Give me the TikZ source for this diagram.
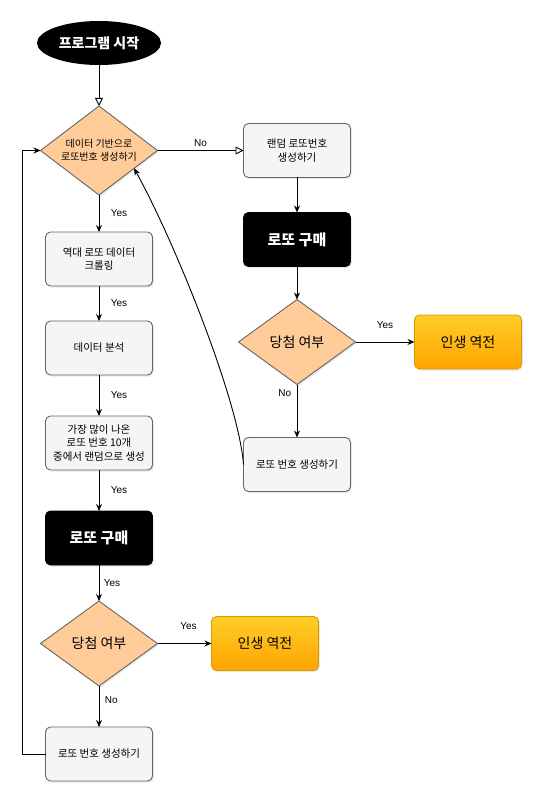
\documentclass[tikz,border=0pt]{standalone}
\usepackage{fontspec}
\setmainfont{Liberation Sans}
\newfontfamily\krfont{Noto Sans CJK KR}
\usetikzlibrary{positioning, shapes, arrows.meta, shadows}

\definecolor{peach}{HTML}{FFCC99}
\definecolor{boxgray}{HTML}{F5F5F5}
\definecolor{linegray}{HTML}{666666}
\definecolor{goldtop}{HTML}{FFCD28}
\definecolor{goldbot}{HTML}{FFA500}
\definecolor{goldline}{HTML}{D79B00}

\begin{document}
\begin{tikzpicture}[
    x=1pt, y=1pt,
    line width=0.9pt,
    >={Stealth[length=7pt, width=6pt]},
    node distance=40pt,
    softshadow/.style={drop shadow={shadow xshift=1.5pt, shadow yshift=-1.5pt, opacity=0.18}},
    stepbox/.style={rectangle, rounded corners=5pt, draw=linegray, fill=boxgray, minimum width=107pt, minimum height=54pt, outer sep=0pt, align=center, font=\krfont\fontsize{10.5}{13.5}\selectfont, softshadow},
    buybox/.style={stepbox, draw=black, fill=black, text=white, font=\krfont\bfseries\fontsize{15}{18}\selectfont},
    winbox/.style={stepbox, draw=goldline, top color=goldtop, bottom color=goldbot, text=black, font=\krfont\fontsize{14}{17}\selectfont},
    decision/.style={diamond, draw=linegray, fill=peach, minimum width=117pt, minimum height=85pt, aspect=1.31, inner sep=0pt, outer sep=0pt, align=center, font=\krfont\fontsize{14}{17}\selectfont, softshadow},
    startnode/.style={ellipse, fill=black, text=white, minimum width=124pt, minimum height=44pt, outer sep=0pt, font=\krfont\bfseries\fontsize{14}{17}\selectfont},
    lbl/.style={font=\fontsize{10}{12}\selectfont}
]
\useasboundingbox (0,0) rectangle (535,-794);

% Start node
\node[startnode] (start) at (99,-43) {프로그램 시작};

% Data based branch
\node[decision, minimum height=89pt, below=41pt of start, font=\krfont\fontsize{10}{13.5}\selectfont] (decide) {데이터 기반으로\\로또번호 생성하기};
\node[stepbox, below=37pt of decide] (crawl) {역대 로또 데이터\\크롤링};
\node[stepbox, below=35pt of crawl] (analyze) {데이터 분석};
\node[stepbox, below=41pt of analyze] (pick) {가장 많이 나온\\로또 번호 10개\\중에서 랜덤으로 생성};
\node[buybox, below=41pt of pick] (buyA) {로또 구매};
\node[decision, below=36pt of buyA] (checkA) {당첨 여부};
\node[winbox, right=54pt of checkA] (winA) {인생 역전};
\node[stepbox, below=41pt of checkA] (retryA) {로또 번호 생성하기};

% Random branch
\node[stepbox, right=86pt of decide] (random) {랜덤 로또번호\\생성하기};
\node[buybox, below=35pt of random] (buyB) {로또 구매};
\node[decision, below=33pt of buyB] (checkB) {당첨 여부};
\node[winbox, right=59pt of checkB] (winB) {인생 역전};
\node[stepbox, below=53pt of checkB] (retryB) {로또 번호 생성하기};

% Edges
\draw[-{Triangle[open, length=8pt, width=8pt]}] (start) -- (decide);
\draw[-{Triangle[open, length=8pt, width=8pt]}] (decide) -- node[lbl, above] {No} (random);
\draw[->] (decide) -- node[lbl, right=8pt] {Yes} (crawl);
\draw[->] (crawl) -- node[lbl, right=8pt] {Yes} (analyze);
\draw[->] (analyze) -- node[lbl, right=8pt] {Yes} (pick);
\draw[->] (pick) -- node[lbl, right=8pt] {Yes} (buyA);
\draw[->] (buyA) -- node[lbl, right=1pt] {Yes} (checkA);
\draw[->] (checkA) -- node[lbl, above=10pt, xshift=4pt] {Yes} (winA);
\draw[->] (checkA) -- node[lbl, right=2pt, pos=0.34] {No} (retryA);
\draw[->] (retryA.west) -- ++(-23,0) |- (decide.west);

\draw[->] (random) -- (buyB);
\draw[->] (buyB) -- (checkB);
\draw[->] (checkB) -- node[lbl, above=10pt] {Yes} (winB);
\draw[->] (checkB) -- node[lbl, left=2pt, pos=0.17] {No} (retryB);
\draw[->] (retryB.west) .. controls +(-5,65) and +(40,-72) .. (decide.-27);

\end{tikzpicture}
\end{document}
